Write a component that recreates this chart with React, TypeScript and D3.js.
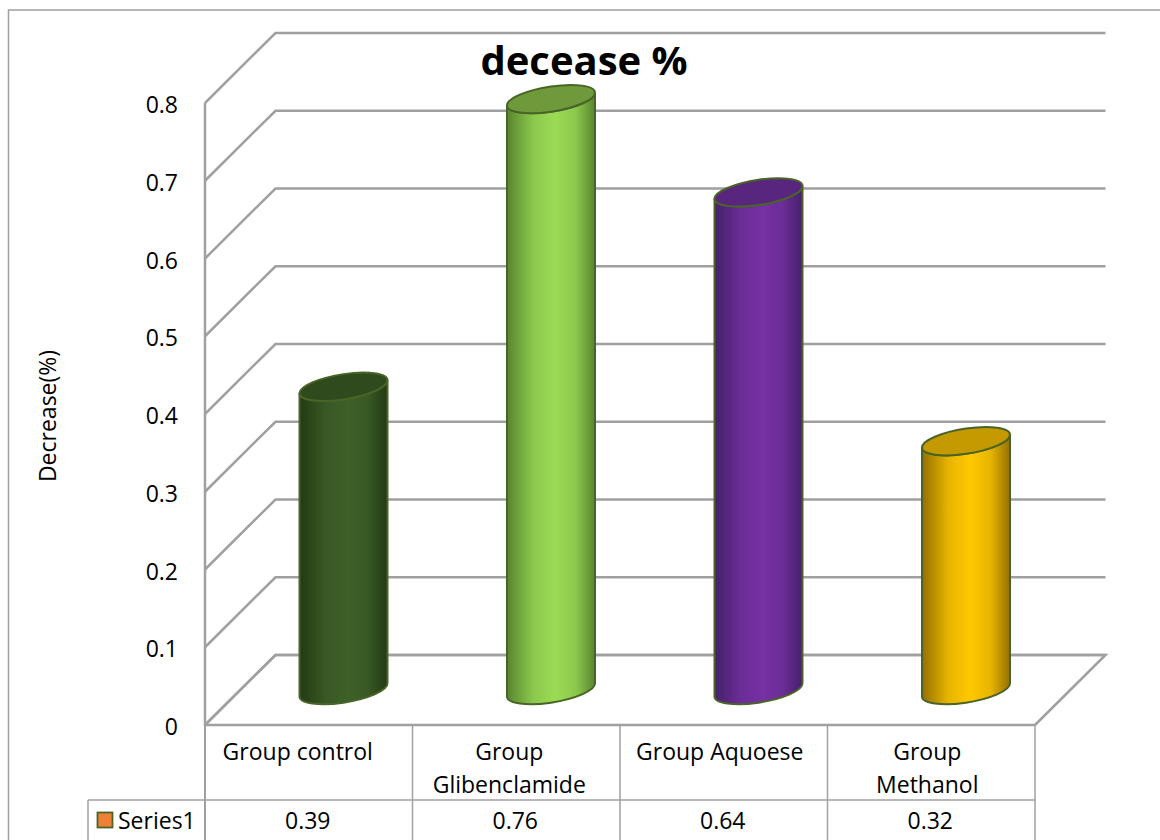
import React from "react";
import * as d3 from "d3";

const categories = ["Group control", "Group Glibenclamide", "Group Aquoese", "Group Methanol"];
const categoryLines = [["Group control"], ["Group", "Glibenclamide"], ["Group Aquoese"], ["Group", "Methanol"]];
const seriesValues = [0.39, 0.76, 0.64, 0.32];
const valueLabels = ["0.39", "0.76", "0.64", "0.32"];
const ticks = [0, 0.1, 0.2, 0.3, 0.4, 0.5, 0.6, 0.7, 0.8];
const tickLabels = ["0", "0.1", "0.2", "0.3", "0.4", "0.5", "0.6", "0.7", "0.8"];
const sideColors = [
  ["#223a14", "#3e6128"],
  ["#588630", "#9bdb54"],
  ["#45206a", "#7631a3"],
  ["#947000", "#ffc800"],
];
const capColors = ["#2f4a1c", "#6f9a3b", "#59267f", "#c49a00"];
const labelShifts = [-11, -7, -4, -4];

const GRID = "#a0a0a0";
const FONT = "'Open Sans', sans-serif";
const LEFT = 205;
const RIGHT = 1035;
const ZERO = 725;
const TOP = 103;
const DEPTH_X = 70.5;
const DEPTH_Y = 70;
const ROW_Y = 800;
const LEGEND_X = 88;
const BOTTOM = 842;

const y = d3.scaleLinear().domain([0, 0.8]).range([ZERO, TOP]);
const x = d3.scaleBand<string>().domain(categories).range([LEFT, RIGHT]);

// Tilted ellipse for the cylinder ends, with its left and right tangent points.
const RX = 44.5;
const RY = 12.5;
const TILT = (-9 * Math.PI) / 180;
const tangentT = Math.atan2(-RY * Math.sin(TILT), RX * Math.cos(TILT));
const dx = RX * Math.cos(tangentT) * Math.cos(TILT) - RY * Math.sin(tangentT) * Math.sin(TILT);
const dy = RX * Math.cos(tangentT) * Math.sin(TILT) + RY * Math.sin(tangentT) * Math.cos(TILT);
const arc = (sweep: number, px: number, py: number) =>
  `A${RX},${RY} -9 1 ${sweep} ${px},${py}`;

function Cylinder({ index }: { index: number }) {
  const cx = (x(categories[index]) as number) + x.bandwidth() / 2 + DEPTH_X / 2 - 0.5;
  const baseY = ZERO - DEPTH_Y / 2;
  const topY = y(seriesValues[index]) - DEPTH_Y / 2;
  const side = [
    `M${cx - dx},${topY - dy}`,
    `L${cx - dx},${baseY - dy}`,
    arc(0, cx + dx, baseY + dy),
    `L${cx + dx},${topY + dy}`,
    arc(1, cx - dx, topY - dy),
    "Z",
  ].join(" ");
  const cap = [
    `M${cx - dx},${topY - dy}`,
    arc(1, cx + dx, topY + dy),
    arc(1, cx - dx, topY - dy),
    "Z",
  ].join(" ");
  return (
    <g stroke="#4a6428" strokeWidth={2}>
      <path d={side} fill={`url(#side-${index})`} />
      <path d={cap} fill={capColors[index]} />
    </g>
  );
}

export default function App() {
  const floor = `M${LEFT},${ZERO} L${LEFT + DEPTH_X},${ZERO - DEPTH_Y} L${RIGHT + DEPTH_X},${ZERO - DEPTH_Y} L${RIGHT},${ZERO}`;
  const columns = [LEFT, ...categories.map((c) => (x(c) as number) + x.bandwidth())];
  return (
    <svg
      width={1160}
      height={840}
      viewBox="0 0 1160 840"
      style={{ position: "absolute", left: 0, top: 0, background: "#fff" }}
      fontFamily={FONT}
      fill="#000"
    >
      <defs>
        {sideColors.map(([edge, mid], i) => (
          <linearGradient key={i} id={`side-${i}`} x1="0" x2="1" y1="0" y2="0">
            <stop offset="0" stopColor={edge} />
            <stop offset="0.3" stopColor={d3.interpolateRgb(edge, mid)(0.78)} />
            <stop offset="0.55" stopColor={mid} />
            <stop offset="0.78" stopColor={d3.interpolateRgb(edge, mid)(0.78)} />
            <stop offset="1" stopColor={edge} />
          </linearGradient>
        ))}
      </defs>

      {/* Outer frame of the chart area */}
      <path d="M8.5,842 L8.5,10 L1160,10" fill="none" stroke="#a0a0a0" strokeWidth={1.5} />

      {/* Back wall, side wall and floor */}
      <g fill="none" stroke={GRID} strokeWidth={2.5}>
        {ticks.map((t) => (
          <path
            key={t}
            d={`M${LEFT},${y(t)} L${LEFT + DEPTH_X},${y(t) - DEPTH_Y} L${RIGHT + DEPTH_X},${y(t) - DEPTH_Y}`}
          />
        ))}
        <path d={floor} />
        <path d={`M${LEFT},${y(0.8)} L${LEFT},${ZERO} L${RIGHT},${ZERO}`} />
      </g>

      {seriesValues.map((_, i) => (
        <Cylinder key={i} index={i} />
      ))}

      {/* Data table under the axis */}
      <g fill="none" stroke={GRID}>
        {columns.map((cx, i) => (
          <line
            key={cx}
            x1={cx}
            x2={cx}
            y1={ZERO}
            y2={BOTTOM}
            strokeWidth={i === 0 ? 2 : 1.5}
          />
        ))}
        <line x1={LEGEND_X} x2={RIGHT} y1={ROW_Y} y2={ROW_Y} strokeWidth={1.5} />
        <line x1={LEGEND_X} x2={LEGEND_X} y1={ROW_Y} y2={BOTTOM} strokeWidth={1.5} />
      </g>

      <rect x={97.5} y={812.5} width={15} height={15} fill="#ed8034" stroke="#4a6428" strokeWidth={1.8} />
      <text x={118} y={829} fontSize={23}>Series1</text>

      {categories.map((c, i) => {
        const mid = (x(c) as number) + x.bandwidth() / 2 + labelShifts[i];
        return (
          <g key={c} textAnchor="middle" fontSize={23}>
            {categoryLines[i].map((line, j) => (
              <text key={line} x={mid} y={760 + j * 33}>{line}</text>
            ))}
            <text x={(x(c) as number) + x.bandwidth() / 2 - 1} y={829}>{valueLabels[i]}</text>
          </g>
        );
      })}

      {ticks.map((t, i) => (
        <text key={t} x={178} y={y(t) + 10} textAnchor="end" fontSize={23}>
          {tickLabels[i]}
        </text>
      ))}

      <text
        transform="translate(56,416) rotate(-90)"
        textAnchor="middle"
        fontSize={23}
      >
        Decrease(%)
      </text>

      <text x={584} y={75} textAnchor="middle" fontSize={40} fontWeight={700}>
        decease %
      </text>
    </svg>
  );
}
